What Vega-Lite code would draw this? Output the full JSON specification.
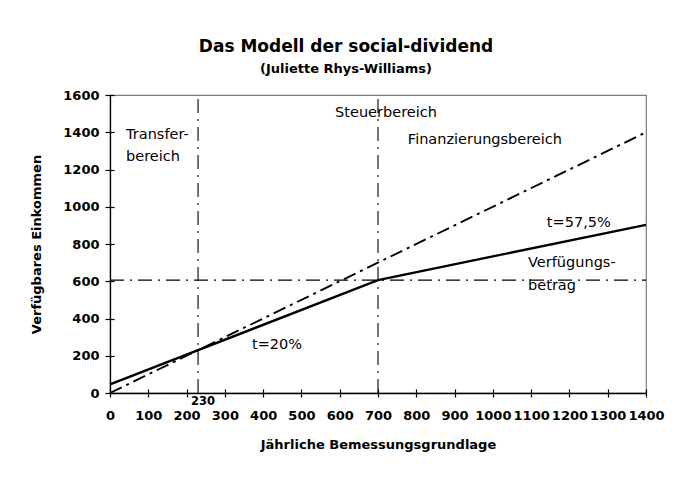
{
  "$schema": "https://vega.github.io/schema/vega-lite/v6.json",
  "width": 536,
  "height": 298,
  "autosize": {"type": "none"},
  "padding": {"left": 110, "top": 95, "right": 33, "bottom": 91},
  "background": "white",
  "title": {
    "text": "Das Modell der social-dividend",
    "subtitle": "(Juliette Rhys-Williams)",
    "anchor": "middle",
    "frame": "group",
    "dx": -32,
    "offset": 12,
    "font": "DejaVu Sans",
    "fontSize": 17,
    "fontWeight": "bold",
    "color": "black",
    "subtitleFont": "DejaVu Sans",
    "subtitleFontSize": 13,
    "subtitleFontWeight": "bold",
    "subtitleColor": "black",
    "subtitlePadding": 7
  },
  "config": {
    "view": {"stroke": "#7a7a7a", "strokeWidth": 1.2},
    "axis": {
      "grid": false,
      "labelFont": "DejaVu Sans",
      "labelFontWeight": "bold",
      "labelFontSize": 13,
      "labelColor": "black",
      "labelOverlap": false,
      "labelFlush": false,
      "labelBound": false,
      "format": "d",
      "titleFont": "DejaVu Sans",
      "titleFontWeight": "bold",
      "titleFontSize": 13,
      "titleColor": "black",
      "domainColor": "black",
      "domainWidth": 1.3,
      "tickColor": "black",
      "tickWidth": 1.2
    },
    "text": {"font": "DejaVu Sans", "fontSize": 14.5, "color": "black"}
  },
  "resolve": {"axis": {"x": "independent", "y": "independent"}},
  "layer": [
    {
      "data": {"values": [
        {"id": "v230", "x": 230, "y": 0},
        {"id": "v230", "x": 230, "y": 1600},
        {"id": "v700", "x": 700, "y": 0},
        {"id": "v700", "x": 700, "y": 1600},
        {"id": "h606", "x": 0, "y": 606},
        {"id": "h606", "x": 1400, "y": 606}
      ]},
      "mark": {"type": "line", "color": "black", "strokeWidth": 1.1, "strokeDash": [14, 6, 2, 6]},
      "encoding": {
        "x": {
          "field": "x", "type": "quantitative",
          "scale": {"domain": [0, 1400], "nice": false},
          "axis": {
            "values": [0, 100, 200, 300, 400, 500, 600, 700, 800, 900, 1000, 1100, 1200, 1300, 1400],
            "title": "Jährliche Bemessungsgrundlage",
            "tickSize": 4,
            "labelPadding": 12,
            "titlePadding": 16
          }
        },
        "y": {
          "field": "y", "type": "quantitative",
          "scale": {"domain": [0, 1600], "nice": false},
          "axis": {
            "values": [0, 200, 400, 600, 800, 1000, 1200, 1400, 1600],
            "title": "Verfügbares Einkommen",
            "tickSize": 5,
            "labelPadding": 6,
            "titlePadding": 19
          }
        },
        "detail": {"field": "id"}
      }
    },
    {
      "data": {"values": [
        {"x": 0, "y": 0},
        {"x": 1400, "y": 1400}
      ]},
      "mark": {"type": "line", "color": "black", "strokeWidth": 1.9, "strokeDash": [13, 5, 3, 5]},
      "encoding": {
        "x": {
          "field": "x", "type": "quantitative",
          "scale": {"domain": [0, 1400], "nice": false},
          "axis": {
            "orient": "bottom",
            "values": [0, 100, 200, 300, 400, 500, 600, 700, 800, 900, 1000, 1100, 1200, 1300, 1400],
            "labels": false, "domain": false, "title": null, "tickSize": -4
          }
        },
        "y": {
          "field": "y", "type": "quantitative",
          "scale": {"domain": [0, 1600], "nice": false},
          "axis": {
            "orient": "left",
            "values": [0, 200, 400, 600, 800, 1000, 1200, 1400, 1600],
            "labels": false, "domain": false, "title": null, "tickSize": -4
          }
        }
      }
    },
    {
      "data": {"values": [
        {"x": 0, "y": 46},
        {"x": 700, "y": 606},
        {"x": 1400, "y": 903}
      ]},
      "mark": {"type": "line", "color": "black", "strokeWidth": 2.4},
      "encoding": {
        "x": {"field": "x", "type": "quantitative", "scale": {"domain": [0, 1400], "nice": false}, "axis": null},
        "y": {"field": "y", "type": "quantitative", "scale": {"domain": [0, 1600], "nice": false}, "axis": null}
      }
    },
    {
      "data": {"values": [
        {"label": "Transfer-", "x": 42, "y": 1385},
        {"label": "bereich", "x": 42, "y": 1267},
        {"label": "Steuerbereich", "x": 588, "y": 1505},
        {"label": "Finanzierungsbereich", "x": 778, "y": 1358},
        {"label": "t=57,5%", "x": 1141, "y": 913},
        {"label": "Verfügungs-", "x": 1092, "y": 698},
        {"label": "betrag", "x": 1092, "y": 574},
        {"label": "t=20%", "x": 371, "y": 258}
      ]},
      "mark": {"type": "text", "align": "left", "baseline": "middle"},
      "encoding": {
        "x": {"field": "x", "type": "quantitative", "scale": {"domain": [0, 1400], "nice": false}, "axis": null},
        "y": {"field": "y", "type": "quantitative", "scale": {"domain": [0, 1600], "nice": false}, "axis": null},
        "text": {"field": "label"}
      }
    },
    {
      "data": {"values": [
        {"label": "230", "x": 243, "y": -48}
      ]},
      "mark": {"type": "text", "align": "center", "baseline": "middle", "fontSize": 11.5, "fontWeight": "bold", "clip": false},
      "encoding": {
        "x": {"field": "x", "type": "quantitative", "scale": {"domain": [0, 1400], "nice": false}, "axis": null},
        "y": {"field": "y", "type": "quantitative", "scale": {"domain": [0, 1600], "nice": false}, "axis": null},
        "text": {"field": "label"}
      }
    }
  ]
}
